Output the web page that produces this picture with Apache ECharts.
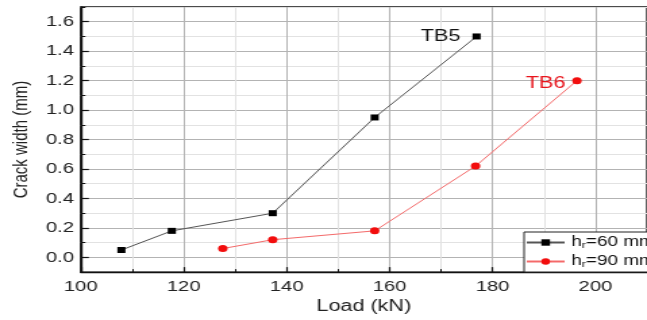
<!DOCTYPE html>
<html>
<head>
<meta charset="utf-8">
<script src="https://cdn.jsdelivr.net/npm/echarts@6/dist/echarts.min.js"></script>
<style>
  html, body { margin: 0; padding: 0; background: #fff; overflow: hidden; }
  #frame { width: 647px; height: 320px; overflow: hidden; position: relative; background: #fff; }
  /* the plot is laid out on a narrower canvas and widened horizontally */
  #chart { width: 479px; height: 320px; transform: scaleX(1.3507); transform-origin: 0 0; }
</style>
</head>
<body>
<div id="frame"><div id="chart"></div></div>
<script>
// Load (kN) and crack width (mm) for the two beams
const loadsTB5 = [107.9, 117.7, 137.3, 157.1, 176.9];
const crackTB5 = [0.05, 0.18, 0.30, 0.95, 1.50];
const loadsTB6 = [127.6, 137.3, 157.1, 176.7, 196.4];
const crackTB6 = [0.06, 0.12, 0.18, 0.62, 1.20];

const seriesNames = ['hr=60 mm', 'hr=90 mm'];
const beamLabels = ['TB5', 'TB6'];
const yTickValues = [0, 0.2, 0.4, 0.6, 0.8, 1.0, 1.2, 1.4, 1.6];

const FONT = '"Liberation Sans", Arial, Helvetica, sans-serif';

const chart = echarts.init(document.getElementById('chart'), null, { renderer: 'canvas' });

function pairs(xs, ys) { return xs.map((x, i) => [x, ys[i]]); }
function lastOnly(text, count) {
  return p => (p.dataIndex === count - 1 ? text : '');
}

const option = {
  animation: false,
  backgroundColor: '#fff',
  textStyle: { fontFamily: FONT },
  grid: {
    left: 57, top: 7, width: 430, height: 266,
    show: true, borderColor: '#111', borderWidth: 1.3, backgroundColor: 'transparent'
  },
  legend: {
    orient: 'vertical',
    left: 388, top: 232,
    padding: [3, 6, 3, 1],
    itemGap: 4,
    itemWidth: 28, itemHeight: 8,
    borderColor: '#222', borderWidth: 1,
    backgroundColor: '#fff',
    formatter: n => '{a|h}{s|r}{a|' + n.slice(2) + '}',
    textStyle: {
      fontFamily: FONT, color: '#111',
      rich: {
        a: { fontSize: 14, lineHeight: 16, fontFamily: FONT, color: '#111' },
        s: { fontSize: 9, lineHeight: 16, padding: [6, 0, 0, 0], fontFamily: FONT, color: '#111' }
      }
    },
    data: seriesNames
  },
  xAxis: [
    {
      type: 'value', min: 100, max: 210, interval: 10, position: 'bottom',
      axisLine: { show: true, onZero: false, lineStyle: { color: '#111', width: 1.4 } },
      axisTick: { show: true, inside: true, length: 3, lineStyle: { color: '#111' } },
      axisLabel: { show: false },
      splitLine: { show: true, lineStyle: { color: '#e2e2e2', width: 1 } }
    },
    {
      type: 'value', min: 100, max: 210, interval: 20, position: 'bottom',
      axisLine: { show: false, onZero: false },
      axisTick: { show: true, inside: true, length: 5, lineStyle: { color: '#111', width: 1.2 } },
      axisLabel: { show: true, margin: 7, fontSize: 15, color: '#222', fontFamily: FONT, showMaxLabel: false },
      splitLine: { show: true, lineStyle: { color: '#b3b3b3', width: 1 } },
      name: 'Load (kN)', nameLocation: 'middle', nameGap: 25,
      nameTextStyle: { fontSize: 16, color: '#222', fontFamily: FONT }
    }
  ],
  yAxis: [
    {
      type: 'value', min: -0.1, max: 1.7, interval: 0.1, position: 'left',
      axisLine: { show: true, onZero: false, lineStyle: { color: '#111', width: 1.4 } },
      axisTick: { show: true, inside: true, length: 3.5, lineStyle: { color: '#111' } },
      axisLabel: { show: false },
      splitLine: { show: true, lineStyle: { color: ['#e2e2e2', '#b3b3b3'], width: 1 } }
    },
    {
      type: 'value', min: -0.1, max: 1.7, position: 'left',
      axisLine: { show: false, onZero: false },
      axisTick: { show: true, inside: true, length: 6, customValues: yTickValues, lineStyle: { color: '#111', width: 1.2 } },
      axisLabel: {
        show: true, margin: 5, fontSize: 15, color: '#222', fontFamily: FONT,
        customValues: yTickValues, formatter: v => v.toFixed(1)
      },
      splitLine: { show: false },
      name: 'Crack width (mm)', nameLocation: 'middle', nameGap: 35,
      nameTextStyle: { fontSize: 15, color: '#222', fontFamily: FONT }
    }
  ],
  series: [
    {
      name: seriesNames[0], type: 'line', xAxisIndex: 0, yAxisIndex: 0,
      data: pairs(loadsTB5, crackTB5),
      symbol: 'rect', symbolSize: 6,
      itemStyle: { color: '#000' },
      lineStyle: { color: '#555', width: 1 },
      label: {
        show: true, position: 'left', distance: 9,
        formatter: lastOnly(beamLabels[0], loadsTB5.length),
        fontSize: 16, color: '#111', fontFamily: FONT
      },
      z: 3
    },
    {
      name: seriesNames[1], type: 'line', xAxisIndex: 0, yAxisIndex: 0,
      data: pairs(loadsTB6, crackTB6),
      symbol: 'circle', symbolSize: 7,
      itemStyle: { color: '#f20d0d' },
      lineStyle: { color: '#f46a6a', width: 1 },
      label: {
        show: true, position: 'left', distance: 5, offset: [0, 3],
        formatter: lastOnly(beamLabels[1], loadsTB6.length),
        fontSize: 16, color: '#e8141c', fontFamily: FONT
      },
      z: 3
    }
  ]
};

chart.setOption(option);
</script>
</body>
</html>
